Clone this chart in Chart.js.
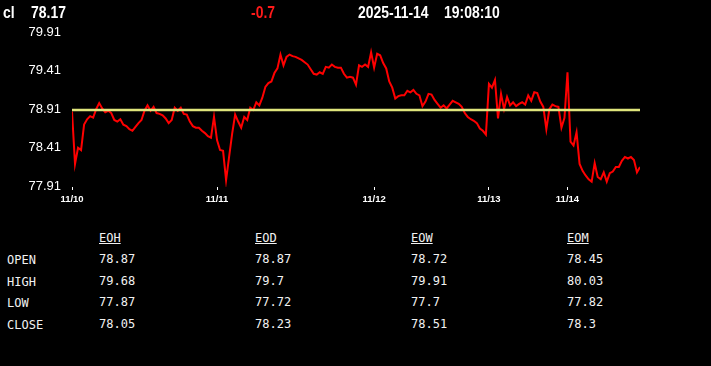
<!DOCTYPE html>
<html>
<head>
<meta charset="utf-8">
<script src="https://cdn.jsdelivr.net/npm/chart.js@4.4.1/dist/chart.umd.min.js"></script>
<style>
  html, body { margin: 0; padding: 0; background: #000; width: 711px; height: 366px; overflow: hidden; }
  .hdr { position: absolute; top: 4px; font: bold 17px/17px 'Liberation Sans', Arial, sans-serif; color: #fff; white-space: nowrap; transform: scaleX(0.82); transform-origin: 0 0; }
  #chartBox { position: absolute; left: 0; top: 0; width: 711px; height: 215px; }
  .cell { position: absolute; font: 12px/14px 'DejaVu Sans Mono', 'Liberation Mono', monospace; color: #f2f2f2; white-space: nowrap; }
  .head { text-decoration: underline; }
</style>
</head>
<body>
<div id="chartBox"><canvas id="quote-chart" width="711" height="215"></canvas></div>
<div class="hdr" style="left:3px">cl</div>
<div class="hdr" style="left:31px">78.17</div>
<div class="hdr" style="left:251px;color:#ff1a1a">-0.7</div>
<div class="hdr" style="left:358px">2025-11-14</div>
<div class="hdr" style="left:444px">19:08:10</div>
<div id="table"></div>
<script>
// price series, one array per trading day
const dayLabels = ['11/10', '11/11', '11/12', '11/13', '11/14'];
const day1110 = [78.89, 78.21, 78.42, 78.39, 78.72, 78.79, 78.83, 78.81, 78.92, 79.00,
                 78.93, 78.88, 78.90, 78.87, 78.78, 78.76, 78.79, 78.72, 78.70, 78.66,
                 78.64, 78.69, 78.74, 78.78, 78.90, 78.97, 78.90, 78.95, 78.87, 78.86,
                 78.84, 78.80, 78.74, 78.78, 78.94, 78.90, 78.94, 78.86, 78.85, 78.76,
                 78.70, 78.68, 78.68, 78.64, 78.61, 78.57, 78.55, 78.82];
const day1111 = [78.52, 78.39, 78.38, 78.00, 78.30, 78.60, 78.85, 78.76, 78.68, 78.82,
                 78.78, 78.94, 78.91, 79.01, 78.97, 79.07, 79.21, 79.26, 79.28, 79.39,
                 79.45, 79.63, 79.49, 79.60, 79.63, 79.61, 79.60, 79.58, 79.56, 79.53,
                 79.50, 79.44, 79.38, 79.37, 79.40, 79.38, 79.47, 79.46, 79.50, 79.47,
                 79.46, 79.46, 79.38, 79.33, 79.34, 79.33, 79.24, 79.49, 79.47, 79.50,
                 79.47, 79.66];
const day1112 = [79.46, 79.64, 79.62, 79.52, 79.45, 79.28, 79.20, 79.06, 79.09, 79.10,
                 79.10, 79.16, 79.14, 79.17, 79.12, 79.10, 78.96, 79.02, 79.12, 79.11,
                 79.04, 78.99, 78.94, 78.97, 78.93, 78.98, 79.03, 79.01, 78.99, 78.95,
                 78.87, 78.82, 78.79, 78.77, 78.74, 78.67, 78.64, 78.59];
const day1113 = [79.25, 79.20, 79.30, 78.80, 79.12, 78.92, 79.08, 78.97, 79.01, 78.96,
                 78.99, 79.01, 78.98, 79.10, 79.03, 79.14, 79.13, 79.02, 78.95, 78.66,
                 78.92, 78.98, 78.96, 78.95, 78.68, 78.81];
const day1114 = [79.40, 78.50, 78.45, 78.62, 78.21, 78.12, 78.06, 78.01, 77.98, 78.22,
                 78.04, 78.01, 78.10, 77.98, 78.09, 78.11, 78.17, 78.17, 78.25, 78.30,
                 78.28, 78.30, 78.26, 78.10, 78.17];
const prevClose = 78.91;
const yTicks = [77.91, 78.41, 78.91, 79.41, 79.91];

// summary table
const rowLabels = ['OPEN', 'HIGH', 'LOW', 'CLOSE'];
const colLabels = ['EOH', 'EOD', 'EOW', 'EOM'];
const eoh = [78.87, 79.68, 77.87, 78.05];
const eod = [78.87, 79.7, 77.72, 78.23];
const eow = [78.72, 79.91, 77.7, 78.51];
const eom = [78.45, 80.03, 77.82, 78.3];

const dayPrices = [day1110, day1111, day1112, day1113, day1114];
const prices = dayPrices.flat();
const dayStarts = [];
let n = 0;
dayPrices.forEach(d => { dayStarts.push(n); n += d.length; });
const lastIdx = prices.length - 1;

const sans = "'Liberation Sans', Arial, sans-serif";

new Chart(document.getElementById('quote-chart'), {
    type: 'line',
    data: {
        datasets: [{
            label: 'prev close',
            data: [{ x: 0, y: prevClose }, { x: lastIdx, y: prevClose }],
            borderColor: '#dfe57c',
            borderWidth: 2.5,
            pointRadius: 0,
        }, {
            label: 'cl',
            data: prices.map((v, i) => ({ x: i, y: v })),
            borderColor: '#ff0000',
            borderWidth: 2,
            pointRadius: 0,
            tension: 0,
        }],
    },
    options: {
        responsive: false,
        animation: false,
        devicePixelRatio: 1,
        layout: { padding: { top: 33, right: 71, left: 0, bottom: 0 } },
        plugins: { legend: { display: false }, tooltip: { enabled: false } },
        scales: {
            x: {
                type: 'linear',
                min: 0,
                max: lastIdx,
                afterBuildTicks: s => { s.ticks = dayStarts.map(v => ({ value: v })); },
                afterFit: s => { s.height = 28; },
                ticks: {
                    autoSkip: false,
                    maxRotation: 0,
                    padding: 4,
                    color: '#fff',
                    font: { family: sans, size: 9.5, weight: 'bold' },
                    callback: v => dayLabels[dayStarts.indexOf(v)],
                },
                grid: { display: true, drawOnChartArea: false, drawTicks: true, tickLength: 3, color: '#fff' },
                border: { display: false },
            },
            y: {
                min: 77.91,
                max: 79.91,
                afterBuildTicks: s => { s.ticks = yTicks.map(v => ({ value: v })); },
                afterFit: s => { s.width = 72; },
                ticks: {
                    color: '#fff',
                    padding: 11,
                    labelOffset: -1,
                    font: { family: sans, size: 13 },
                    callback: v => v.toFixed(2),
                },
                grid: { display: false, drawTicks: false },
                border: { display: false },
            },
        },
    },
});

// table layout
const table = document.getElementById('table');
const colX = [99, 255, 411, 567];
const cols = [eoh, eod, eow, eom];
function cell(text, x, y, cls) {
    const el = document.createElement('div');
    el.className = 'cell' + (cls ? ' ' + cls : '');
    el.style.left = x + 'px';
    el.style.top = y + 'px';
    el.textContent = text;
    table.appendChild(el);
}
colLabels.forEach((c, j) => cell(c, colX[j], 231, 'head'));
rowLabels.forEach((r, i) => {
    const top = 252 + i * 21.7;
    cell(r, 7, top + 1);
    cols.forEach((col, j) => cell(String(col[i]), colX[j], top));
});
</script>
</body>
</html>
